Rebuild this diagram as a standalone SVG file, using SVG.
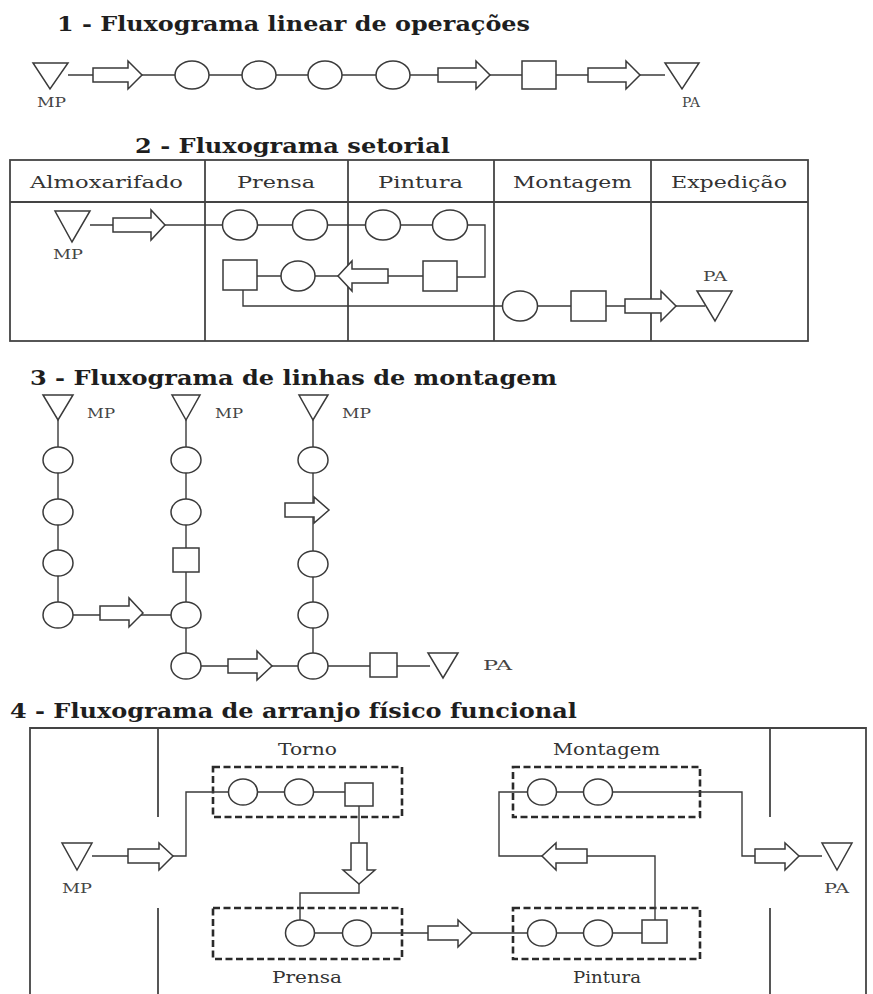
<svg xmlns="http://www.w3.org/2000/svg" width="873" height="994" viewBox="0 0 873 994">
<style>
text{font-family:"DejaVu Serif","Liberation Serif",serif;fill:#2a2a2a}
.t{font-weight:bold;font-size:21px;fill:#1e1e1e}
.h{font-size:16px;fill:#333}
.s{font-size:12px;fill:#444}
.ln{fill:none;stroke:#3a3a3a;stroke-width:1.4}
.n{fill:#fff;stroke:#3a3a3a;stroke-width:1.5}
.box{fill:none;stroke:#444;stroke-width:1.8}
.dash{fill:none;stroke:#2a2a2a;stroke-width:2.6;stroke-dasharray:7 3.5}
</style>

<!-- Titles -->
<text class="t" x="57" y="31" textLength="473" lengthAdjust="spacingAndGlyphs">1 - Fluxograma linear de operações</text>
<text class="t" x="135" y="153" textLength="315" lengthAdjust="spacingAndGlyphs">2 - Fluxograma setorial</text>
<text class="t" x="30" y="385" textLength="527" lengthAdjust="spacingAndGlyphs">3 - Fluxograma de linhas de montagem</text>
<text class="t" x="10" y="718" textLength="567" lengthAdjust="spacingAndGlyphs">4 - Fluxograma de arranjo físico funcional</text>

<!-- Section 2 table -->
<g id="table2">
<rect class="box" x="10" y="160" width="798" height="181"/>
<line class="box" x1="10" y1="202" x2="808" y2="202"/>
<line class="box" x1="205" y1="160" x2="205" y2="341"/>
<line class="box" x1="348" y1="160" x2="348" y2="341"/>
<line class="box" x1="494" y1="160" x2="494" y2="341"/>
<line class="box" x1="651" y1="160" x2="651" y2="341"/>
<text class="h" x="30" y="188" textLength="153" lengthAdjust="spacingAndGlyphs">Almoxarifado</text>
<text class="h" x="237" y="188" textLength="78" lengthAdjust="spacingAndGlyphs">Prensa</text>
<text class="h" x="378" y="188" textLength="85" lengthAdjust="spacingAndGlyphs">Pintura</text>
<text class="h" x="513" y="188" textLength="119" lengthAdjust="spacingAndGlyphs">Montagem</text>
<text class="h" x="671" y="188" textLength="116" lengthAdjust="spacingAndGlyphs">Expedição</text>
</g>

<!-- Section 4 frame -->
<g id="frame4">
<path class="box" d="M30,994 V728 H866 V994"/>
<line class="box" x1="158" y1="728" x2="158" y2="817"/>
<line class="box" x1="158" y1="908" x2="158" y2="994"/>
<line class="box" x1="770" y1="728" x2="770" y2="817"/>
<line class="box" x1="770" y1="908" x2="770" y2="994"/>
<rect class="dash" x="213" y="767" width="189" height="50"/>
<rect class="dash" x="213" y="908" width="189" height="51"/>
<rect class="dash" x="513" y="767" width="187" height="50"/>
<rect class="dash" x="513" y="908" width="187" height="51"/>
<text class="h" x="278" y="755" textLength="59" lengthAdjust="spacingAndGlyphs">Torno</text>
<text class="h" x="272" y="983" textLength="70" lengthAdjust="spacingAndGlyphs">Prensa</text>
<text class="h" x="553" y="755" textLength="107" lengthAdjust="spacingAndGlyphs">Montagem</text>
<text class="h" x="573" y="983" textLength="68" lengthAdjust="spacingAndGlyphs">Pintura</text>
</g>

<!-- Connectors -->
<g id="connectors">
<path class="ln" d="M68,75 H665"/>
<path class="ln" d="M90,225 H485 V277 H457"/>
<path class="ln" d="M257,276 H423"/>
<path class="ln" d="M243,290 V306 H705"/>
<path class="ln" d="M58,420 V615 H172"/>
<path class="ln" d="M186,420 V666 H430"/>
<path class="ln" d="M313,420 V666"/>
<path class="ln" d="M92,856 H186 V792 H345"/>
<path class="ln" d="M359,806 V893 H300 V922"/>
<path class="ln" d="M286,933 H642"/>
<path class="ln" d="M655,920 V856 H499 V792 H742 V856 H822"/>
</g>

<!-- Section 1 nodes -->
<g id="s1-mp"><polygon class="n" points="33,63 68,63 50,89"/><text class="s" x="37" y="107" textLength="29" lengthAdjust="spacingAndGlyphs">MP</text></g>
<g id="s1-a1"><path class="n" d="M93,68 H128 V61 L142,75 L128,89 V82 H93 Z"/></g>
<g id="s1-c1"><ellipse class="n" cx="192" cy="75" rx="17" ry="14"/></g>
<g id="s1-c2"><ellipse class="n" cx="259" cy="75" rx="17" ry="14"/></g>
<g id="s1-c3"><ellipse class="n" cx="325" cy="75" rx="17" ry="14"/></g>
<g id="s1-c4"><ellipse class="n" cx="393" cy="75" rx="17" ry="14"/></g>
<g id="s1-a2"><path class="n" d="M438,68 H476 V61 L490,75 L476,89 V82 H438 Z"/></g>
<g id="s1-q1"><rect class="n" x="522" y="61" width="34" height="28"/></g>
<g id="s1-a3"><path class="n" d="M588,68 H626 V61 L640,75 L626,89 V82 H588 Z"/></g>
<g id="s1-pa"><polygon class="n" points="665,63 699,63 682,89"/><text class="s" x="682" y="107" textLength="18" lengthAdjust="spacingAndGlyphs">PA</text></g>

<!-- Section 2 nodes -->
<g id="s2-mp"><polygon class="n" points="55,211 90,211 72,242"/><text class="s" x="53" y="259" textLength="30" lengthAdjust="spacingAndGlyphs">MP</text></g>
<g id="s2-a1"><path class="n" d="M113,218 H151 V210 L165,225 L151,240 V232 H113 Z"/></g>
<g id="s2-c1"><ellipse class="n" cx="240" cy="225" rx="17.5" ry="15"/></g>
<g id="s2-c2"><ellipse class="n" cx="310" cy="225" rx="17.5" ry="15"/></g>
<g id="s2-c3"><ellipse class="n" cx="383" cy="225" rx="17.5" ry="15"/></g>
<g id="s2-c4"><ellipse class="n" cx="450" cy="225" rx="17.5" ry="15"/></g>
<g id="s2-q1"><rect class="n" x="423" y="261" width="34" height="30"/></g>
<g id="s2-a2"><path class="n" d="M388,269 H352 V261 L338,276 L352,291 V283 H388 Z"/></g>
<g id="s2-c5"><ellipse class="n" cx="298" cy="276" rx="17" ry="15"/></g>
<g id="s2-q2"><rect class="n" x="223" y="260" width="34" height="30"/></g>
<g id="s2-c6"><ellipse class="n" cx="520" cy="306" rx="17.5" ry="15"/></g>
<g id="s2-q3"><rect class="n" x="571" y="291" width="35" height="30"/></g>
<g id="s2-a3"><path class="n" d="M625,299 H661 V291 L676,306 L661,321 V313 H625 Z"/></g>
<g id="s2-pa"><polygon class="n" points="697,291 732,291 715,321"/><text class="s" x="703" y="281" textLength="24" lengthAdjust="spacingAndGlyphs">PA</text></g>

<!-- Section 3 nodes -->
<g id="s3-mp1"><polygon class="n" points="43,395 73,395 58,420"/><text class="s" x="87" y="418" textLength="28" lengthAdjust="spacingAndGlyphs">MP</text></g>
<g id="s3-mp2"><polygon class="n" points="172,395 200,395 186,420"/><text class="s" x="215" y="418" textLength="28" lengthAdjust="spacingAndGlyphs">MP</text></g>
<g id="s3-mp3"><polygon class="n" points="299,395 328,395 313,420"/><text class="s" x="342" y="418" textLength="29" lengthAdjust="spacingAndGlyphs">MP</text></g>
<g id="s3-c11"><ellipse class="n" cx="58" cy="460" rx="15" ry="13"/></g>
<g id="s3-c12"><ellipse class="n" cx="58" cy="512" rx="15" ry="13"/></g>
<g id="s3-c13"><ellipse class="n" cx="58" cy="563" rx="15" ry="13"/></g>
<g id="s3-c14"><ellipse class="n" cx="58" cy="615" rx="15" ry="13"/></g>
<g id="s3-a1"><path class="n" d="M100,606 H129 V598 L143,613 L129,627 V620 H100 Z"/></g>
<g id="s3-c21"><ellipse class="n" cx="186" cy="460" rx="15" ry="13"/></g>
<g id="s3-c22"><ellipse class="n" cx="186" cy="512" rx="15" ry="13"/></g>
<g id="s3-q21"><rect class="n" x="173" y="548" width="26" height="24"/></g>
<g id="s3-c23"><ellipse class="n" cx="186" cy="615" rx="15" ry="13"/></g>
<g id="s3-c24"><ellipse class="n" cx="186" cy="666" rx="15" ry="13"/></g>
<g id="s3-a2"><path class="n" d="M228,659 H257 V651 L272,666 L257,680 V673 H228 Z"/></g>
<g id="s3-c31"><ellipse class="n" cx="313" cy="460" rx="15" ry="13"/></g>
<g id="s3-a3"><path class="n" d="M285,503 H314 V497 L329,510 L314,523 V517 H285 Z"/></g>
<g id="s3-c32"><ellipse class="n" cx="313" cy="564" rx="15" ry="13"/></g>
<g id="s3-c33"><ellipse class="n" cx="313" cy="615" rx="15" ry="13"/></g>
<g id="s3-c34"><ellipse class="n" cx="313" cy="666" rx="15" ry="13"/></g>
<g id="s3-q31"><rect class="n" x="370" y="653" width="27" height="24"/></g>
<g id="s3-pa"><polygon class="n" points="428,653 458,653 443,678"/><text class="s" x="483" y="670" textLength="29" lengthAdjust="spacingAndGlyphs">PA</text></g>

<!-- Section 4 nodes -->
<g id="s4-mp"><polygon class="n" points="62,843 92,843 77,870"/><text class="s" x="62" y="893" textLength="30" lengthAdjust="spacingAndGlyphs">MP</text></g>
<g id="s4-a1"><path class="n" d="M128,849 H159 V843 L173,856 L159,870 V863 H128 Z"/></g>
<g id="s4-t1"><ellipse class="n" cx="243" cy="792" rx="14.5" ry="13"/></g>
<g id="s4-t2"><ellipse class="n" cx="299" cy="792" rx="14.5" ry="13"/></g>
<g id="s4-tq"><rect class="n" x="345" y="783" width="28" height="23"/></g>
<g id="s4-a2"><path class="n" d="M351,843 V870 H343 L359,884 L375,870 H367 V843 Z"/></g>
<g id="s4-p1"><ellipse class="n" cx="300" cy="933" rx="14.5" ry="13"/></g>
<g id="s4-p2"><ellipse class="n" cx="357" cy="933" rx="14.5" ry="13"/></g>
<g id="s4-a3"><path class="n" d="M428,926 H458 V920 L472,933 L458,947 V940 H428 Z"/></g>
<g id="s4-pi1"><ellipse class="n" cx="542" cy="933" rx="14.5" ry="13"/></g>
<g id="s4-pi2"><ellipse class="n" cx="598" cy="933" rx="14.5" ry="13"/></g>
<g id="s4-piq"><rect class="n" x="642" y="920" width="25" height="23"/></g>
<g id="s4-a4"><path class="n" d="M587,849 H556 V843 L542,856 L556,870 V863 H587 Z"/></g>
<g id="s4-m1"><ellipse class="n" cx="542" cy="792" rx="14.5" ry="13"/></g>
<g id="s4-m2"><ellipse class="n" cx="598" cy="792" rx="14.5" ry="13"/></g>
<g id="s4-a5"><path class="n" d="M755,849 H785 V843 L799,856 L785,870 V863 H755 Z"/></g>
<g id="s4-pa"><polygon class="n" points="822,843 852,843 837,870"/><text class="s" x="824" y="893" textLength="25" lengthAdjust="spacingAndGlyphs">PA</text></g>
</svg>
